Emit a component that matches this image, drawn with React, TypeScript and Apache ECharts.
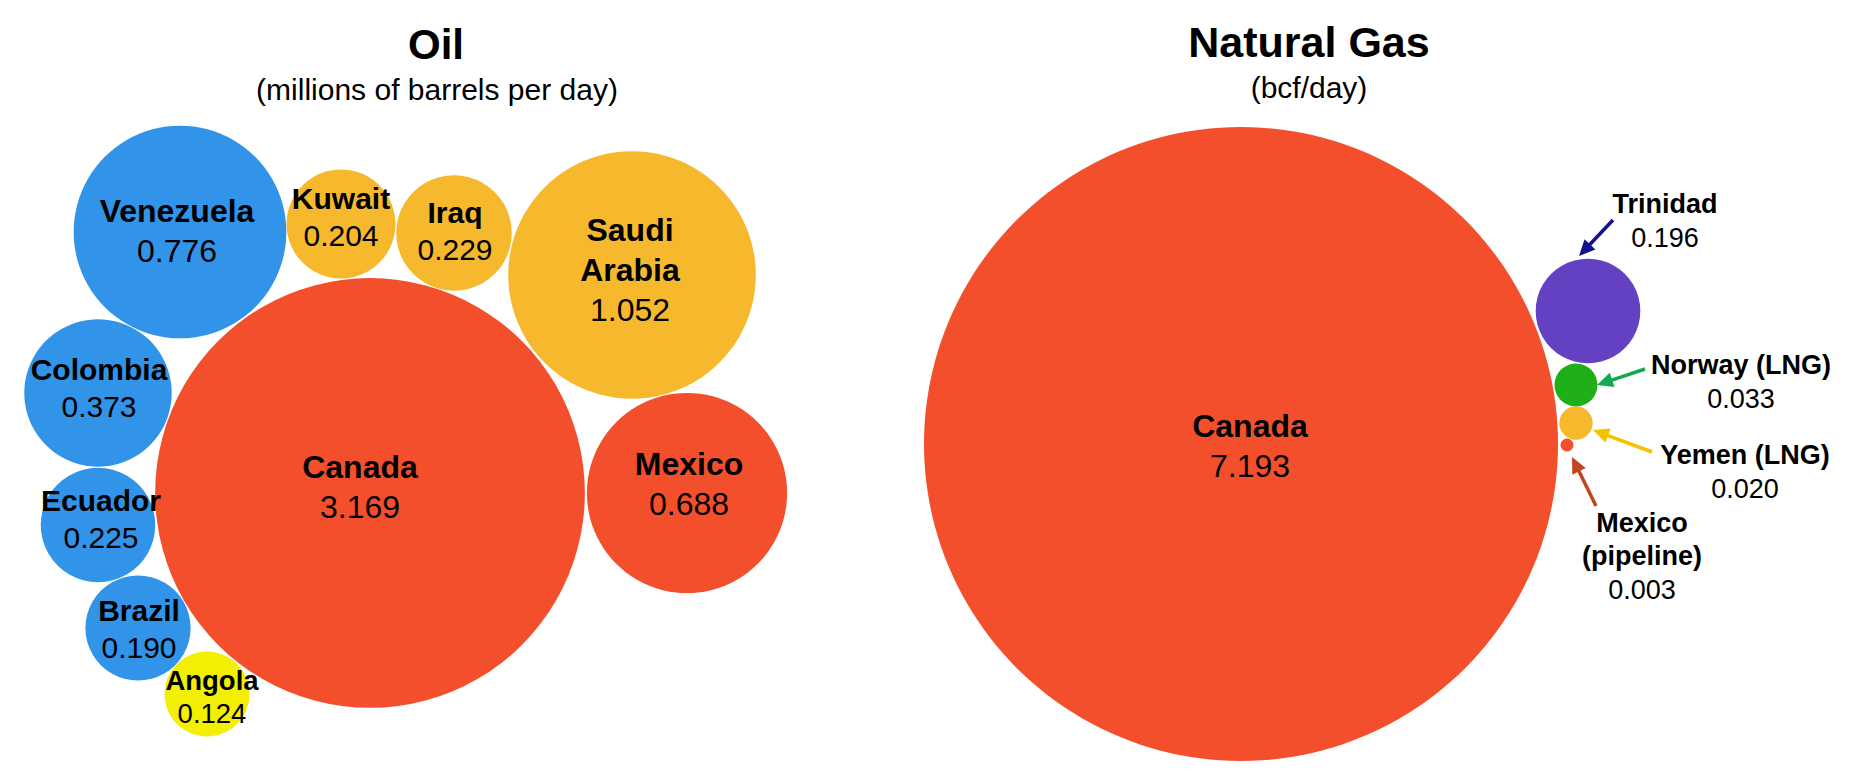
import React, { useEffect, useRef } from "react";
import * as echarts from "echarts";

// ---- data ----
const oilNames = ["Venezuela", "Kuwait", "Iraq", "Saudi\nArabia", "Canada", "Mexico", "Colombia", "Ecuador", "Brazil", "Angola"];
const oilValues = [0.776, 0.204, 0.229, 1.052, 3.169, 0.688, 0.373, 0.225, 0.19, 0.124];
const gasNames = ["Canada", "Trinidad", "Norway (LNG)", "Yemen (LNG)", "Mexico\n(pipeline)"];
const gasValues = [7.193, 0.196, 0.033, 0.02, 0.003];

// ---- layout (packed-bubble centres, in axis units) ----
const oilCenters = [[180, 232], [341, 224], [454, 233], [632, 275], [370, 493], [687, 493], [98, 393], [98, 525], [138, 628], [207, 694]];
const gasCenters = [[1241, 444], [1588, 311], [1576, 385], [1576, 423], [1567, 445]];

// ---- styles ----
const BLUE = "#3194E8";
const GOLD = "#F6B92D";
const RED = "#F44F2C";
const YELLOW = "#F2F000";
const PURPLE = "#6440C2";
const GREEN = "#1FAF19";
const oilColors = [BLUE, GOLD, GOLD, GOLD, RED, RED, BLUE, BLUE, BLUE, YELLOW];
const gasColors = [RED, PURPLE, GREEN, GOLD, RED];
const oilLabelSize = ["L", "M", "M", "L", "L", "L", "M", "M", "M", "S"];
const oilLabelOffset = [[-3, -1], [0, -7], [1, -2], [-2, -5], [-10, -6], [2, -9], [1, -5], [3, -6], [1, 1], [5, 3]];
const gasLabelSize = ["L", "G", "G", "G", "G"];
const gasLabelOffset = [[9, 2], [77, -90], [165, -3], [169, 49], [75, 111]];
const arrows = [
  { from: [1613, 220], to: [1579, 256], color: "#12128C" },
  { from: [1645, 369], to: [1597, 385], color: "#16A850" },
  { from: [1652, 452], to: [1593, 430], color: "#F5C200" },
  { from: [1596, 506], to: [1572, 457], color: "#C1461E" },
];

const OIL_K = 120.7; // px radius per sqrt(unit)
const GAS_K = 118.2;
const FONT = "'Liberation Sans', Arial, Helvetica, sans-serif";

function rich() {
  const mk = (size: number, lh: number, bold: boolean) => ({
    fontSize: size,
    lineHeight: lh,
    fontWeight: bold ? "bold" : "normal",
    color: "#000",
    fontFamily: FONT,
    align: "center",
  });
  return {
    nL: mk(32, 40, true),
    vL: mk(32, 40, false),
    nM: mk(30, 36.5, true),
    vM: mk(30, 36.5, false),
    nS: mk(27.5, 33.5, true),
    vS: mk(27.5, 33.5, false),
    nG: mk(27, 33.5, true),
    vG: mk(27, 33.5, false),
  };
}

function arrowGraphics() {
  const out: any[] = [];
  arrows.forEach((a) => {
    const [x1, y1] = a.from;
    const [x2, y2] = a.to;
    const dx = x2 - x1;
    const dy = y2 - y1;
    const len = Math.sqrt(dx * dx + dy * dy);
    const ux = dx / len;
    const uy = dy / len;
    const h = 16;
    const w = 7.5;
    const bx = x2 - ux * h;
    const by = y2 - uy * h;
    const px = -uy;
    const py = ux;
    out.push({
      type: "line",
      shape: { x1, y1, x2: bx + ux * 2, y2: by + uy * 2 },
      style: { stroke: a.color, lineWidth: 3.5 },
      silent: true,
    });
    out.push({
      type: "polygon",
      shape: {
        points: [
          [x2, y2],
          [bx + px * w, by + py * w],
          [bx - px * w, by - py * w],
        ],
      },
      style: { fill: a.color },
      silent: true,
    });
  });
  return out;
}

export default function App() {
  const ref = useRef<HTMLDivElement>(null);
  useEffect(() => {
    document.body.style.margin = "0";
    const chart = echarts.init(ref.current!, null, { renderer: "svg" });

    const oilData = oilNames.map((n, i) => ({
      name: n,
      value: [oilCenters[i][0], oilCenters[i][1], oilValues[i]],
      symbolSize: 2 * OIL_K * Math.sqrt(oilValues[i]),
      itemStyle: { color: oilColors[i], opacity: 1 },
      label: {
        offset: oilLabelOffset[i],
        formatter: `{n${oilLabelSize[i]}|${n}}\n{v${oilLabelSize[i]}|${oilValues[i].toFixed(3)}}`,
      },
    }));
    const gasData = gasNames.map((n, i) => ({
      name: n,
      value: [gasCenters[i][0], gasCenters[i][1], gasValues[i]],
      symbolSize: 2 * GAS_K * Math.sqrt(gasValues[i]),
      itemStyle: { color: gasColors[i], opacity: 1 },
      label: {
        offset: gasLabelOffset[i],
        formatter: `{n${gasLabelSize[i]}|${n}}\n{v${gasLabelSize[i]}|${gasValues[i].toFixed(3)}}`,
      },
    }));

    const labelBase = {
      show: true,
      position: "inside",
      rich: rich(),
      fontFamily: FONT,
      color: "#000",
      textBorderWidth: 0,
    };

    chart.setOption({
      animation: false,
      backgroundColor: "#ffffff",
      grid: { left: 0, right: 0, top: 0, bottom: 0 },
      xAxis: { type: "value", min: 0, max: 1869, show: false },
      yAxis: { type: "value", min: 0, max: 775, inverse: true, show: false },
      graphic: [
        {
          type: "text",
          x: 436,
          y: 44,
          style: { text: "Oil", fontSize: 42, fontWeight: "bold", fontFamily: FONT, fill: "#000", textAlign: "center", textVerticalAlign: "middle" },
        },
        {
          type: "text",
          x: 437,
          y: 89,
          style: { text: "(millions of barrels per day)", fontSize: 30, fontFamily: FONT, fill: "#000", textAlign: "center", textVerticalAlign: "middle" },
        },
        {
          type: "text",
          x: 1309,
          y: 42,
          style: { text: "Natural Gas", fontSize: 43, fontWeight: "bold", fontFamily: FONT, fill: "#000", textAlign: "center", textVerticalAlign: "middle" },
        },
        {
          type: "text",
          x: 1309,
          y: 87,
          style: { text: "(bcf/day)", fontSize: 30, fontFamily: FONT, fill: "#000", textAlign: "center", textVerticalAlign: "middle" },
        },
        ...arrowGraphics(),
      ],
      series: [
        {
          type: "scatter",
          name: "Oil",
          symbol: "circle",
          data: oilData,
          itemStyle: { opacity: 1 },
          label: labelBase,
          emphasis: { disabled: true },
          z: 2,
        },
        {
          type: "scatter",
          name: "Natural Gas",
          symbol: "circle",
          data: gasData,
          itemStyle: { opacity: 1 },
          label: labelBase,
          emphasis: { disabled: true },
          z: 2,
        },
      ],
    });
    return () => chart.dispose();
  }, []);
  return <div ref={ref} style={{ width: 1869, height: 775 }} />;
}
